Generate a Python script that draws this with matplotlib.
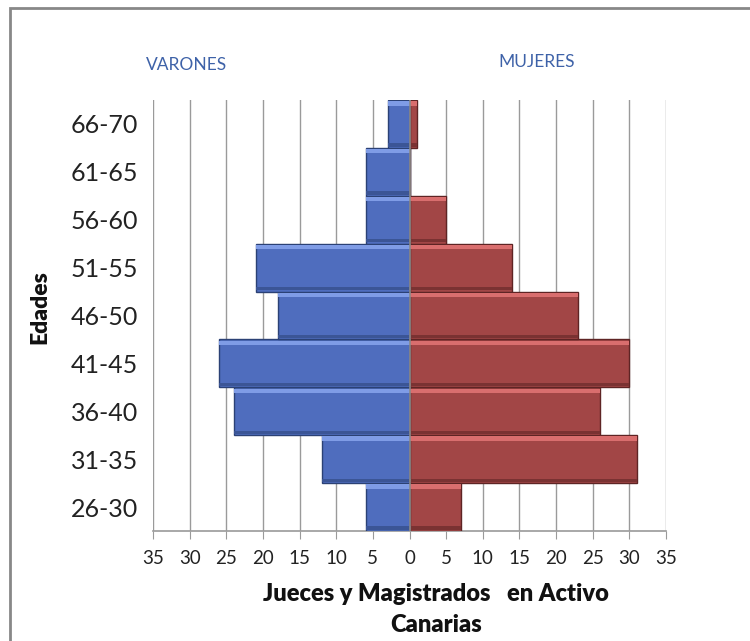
import matplotlib
matplotlib.use("Agg")
import matplotlib.pyplot as plt
from matplotlib.patches import Rectangle
import numpy as np

plt.rcParams['font.family'] = ['Lato', 'DejaVu Sans']

# -- Datos ---------------------------------------------------------------
edades  = ["26-30", "31-35", "36-40", "41-45", "46-50", "51-55", "56-60", "61-65", "66-70"]
varones = [6, 12, 24, 26, 18, 21, 6, 6, 3]
mujeres = [7, 31, 26, 30, 23, 14, 5, 0, 1]
ticks   = [-35, -30, -25, -20, -15, -10, -5, 0, 5, 10, 15, 20, 25, 30, 35]

W, H = 750, 641
fig = plt.figure(figsize=(W / 100, H / 100), dpi=100)
ax = fig.add_axes([153 / W, 1 - 531 / H, (666 - 153) / W, (531 - 100) / H])

y = np.arange(len(edades))
v = -np.array(varones)
m = np.array(mujeres)

# barras base
ax.barh(y, v, height=1.0, color="#4f6dbe", edgecolor="#2b4175", linewidth=1.0, zorder=3)
ax.barh(y, m, height=1.0, color="#a24646", edgecolor="#5e2424", linewidth=1.0, zorder=3)

# efecto bisel: franja clara arriba, oscura abajo
ax.barh(y + 0.43, v, height=0.09, color="#7f9ce6", linewidth=0, zorder=4)
ax.barh(y - 0.44, v, height=0.07, color="#3b5596", linewidth=0, zorder=4)
ax.barh(y + 0.43, m, height=0.09, color="#d96e6e", linewidth=0, zorder=4)
ax.barh(y - 0.44, m, height=0.07, color="#7a3232", linewidth=0, zorder=4)

ax.set_xlim(-35, 35)
ax.set_ylim(-0.5, len(edades) - 0.5)

ax.set_xticks(ticks)
ax.set_xticklabels([str(abs(t)) for t in ticks], fontsize=13.5, color="#222222")
ax.set_yticks(y)
ax.set_yticklabels(edades, fontsize=18, color="#222222")

ax.grid(axis="x", color="#9a9a9a", linewidth=1.0, zorder=0)
ax.axvline(0, color="#8a8a8a", linewidth=1.2, zorder=5)

for s in ["top", "right", "left"]:
    ax.spines[s].set_visible(False)
ax.spines["bottom"].set_color("#9a9a9a")
ax.spines["bottom"].set_linewidth(1.2)
ax.tick_params(axis="x", direction="out", length=6, color="#9a9a9a", pad=8)
ax.tick_params(axis="y", length=0, pad=11)

# textos
fig.text(187 / W, 1 - 65 / H, "VARONES", ha="center", va="center", fontsize=12.5, color="#3e62a8")
fig.text(537 / W, 1 - 62 / H, "MUJERES", ha="center", va="center", fontsize=12.5, color="#3e62a8")
fig.text(40 / W, 1 - 307 / H, "Edades", ha="center", va="center", rotation=90,
         fontsize=16.5, fontweight="heavy", color="#111111")
fig.text(436 / W, 1 - 594 / H, "Jueces y Magistrados   en Activo", ha="center", va="center",
         fontsize=17, fontweight="heavy", color="#111111")
fig.text(436 / W, 1 - 625 / H, "Canarias", ha="center", va="center",
         fontsize=17, fontweight="heavy", color="#111111")

# marco exterior
fig.patches.append(Rectangle((10 / W, -0.1), 1.2, 1 - 8 / H + 0.1, transform=fig.transFigure,
                             fill=False, edgecolor="#888888", linewidth=2.0))

fig.savefig("out.png", dpi=100)
